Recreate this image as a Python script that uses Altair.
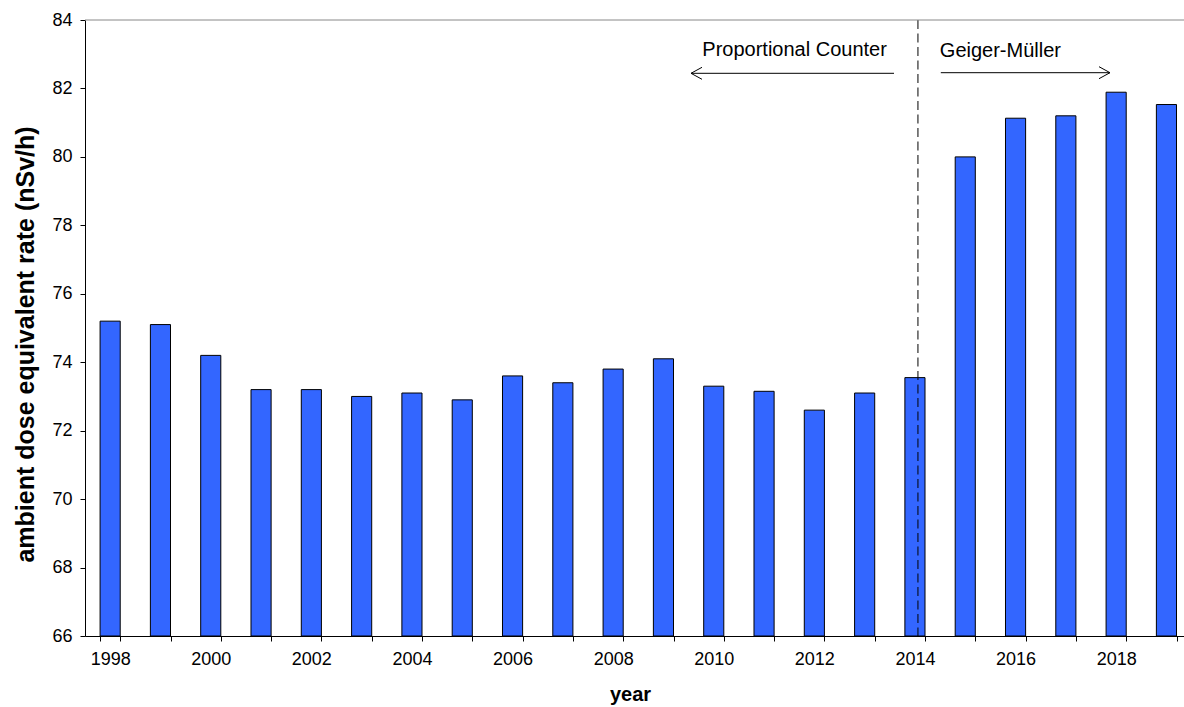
import altair as alt
import pandas as pd

years = ["1998", "1999", "2000", "2001", "2002", "2003", "2004", "2005", "2006", "2007", "2008",
         "2009", "2010", "2011", "2012", "2013", "2014", "2015", "2016", "2017", "2018", "2019"]
dose = [75.2, 75.1, 74.2, 73.2, 73.2, 73.0, 73.1, 72.9, 73.6, 73.4, 73.8,
        74.1, 73.3, 73.15, 72.6, 73.1, 73.55, 80.0, 81.13, 81.2, 81.89, 81.53]
y_ticks = [66, 68, 70, 72, 74, 76, 78, 80, 82, 84]
switch_year = ["2014"]

FONT = "Liberation Sans"
W, H = 1099, 616

df = pd.DataFrame({"year": years, "dose": dose})
one = pd.DataFrame({"a": [0]})

x_scale = alt.Scale(domain=years, range=[0, 1106.6], paddingInner=0.6, paddingOuter=0.3)
y_scale = alt.Scale(domain=[66, 84], nice=False, zero=False)

bars = alt.Chart(df).mark_bar(fill="#3366FF", stroke="black", strokeWidth=1).encode(
    x=alt.X("year:O", scale=x_scale,
            axis=alt.Axis(title="year", tickBand="extent", labelAngle=0,
                          labelExpr="toNumber(datum.value) % 2 == 0 ? datum.value : ''",
                          labelFontSize=18, labelPadding=9, tickSize=5,
                          titleFontSize=20, titleFontWeight="bold",
                          titleX=545, titleY=64, titleBaseline="alphabetic")),
    y=alt.Y("dose:Q", scale=y_scale,
            axis=alt.Axis(title="ambient dose equivalent rate (nSv/h)", values=y_ticks, format="d",
                          labelFontSize=18, labelPadding=8, tickSize=5,
                          titleFontSize=25, titleFontWeight="bold",
                          titleX=-52, titleY=324, titleAngle=270, titleAlign="center",
                          titleBaseline="alphabetic")),
    y2=alt.datum(66),
)

divider = alt.Chart(pd.DataFrame({"year": switch_year})).mark_rule(
    color="black", strokeWidth=1, strokeDash=[9, 4.5], xOffset=3
).encode(x=alt.X("year:O", scale=x_scale), y=alt.value(0), y2=alt.value(H))


def seg(x1, y1, x2, y2, color="black"):
    return alt.Chart(one).mark_rule(color=color, strokeWidth=1).encode(
        x=alt.value(x1), y=alt.value(y1), x2=alt.value(x2), y2=alt.value(y2))


def label(txt, x, y):
    return alt.Chart(one).mark_text(text=txt, font=FONT, fontSize=20, color="black",
                                    align="center", baseline="alphabetic").encode(
        x=alt.value(x), y=alt.value(y))


top_border = seg(0, 0, 1106, 0, color="#888888")

pc_arrow = [seg(809, 53.3, 606, 53.3), seg(606, 53.3, 617, 47.3), seg(606, 53.3, 617, 59.3)]
gm_arrow = [seg(855.8, 52.7, 1025, 52.7), seg(1025, 52.7, 1014, 46.7), seg(1025, 52.7, 1014, 58.7)]

chart = alt.layer(
    bars, divider, top_border, *pc_arrow, *gm_arrow,
    label("Proportional Counter", 709.6, 36),
    label("Geiger-Müller", 915.4, 37),
).properties(
    width=W, height=H,
    autosize=alt.AutoSizeParams(type="none"),
    padding={"left": 85, "top": 20, "right": 0, "bottom": 71},
    background="white",
).configure_view(stroke=None).configure_axis(
    grid=False, labelFont=FONT, titleFont=FONT, labelColor="black", titleColor="black",
    domainColor="black", tickColor="black", domainWidth=1, tickWidth=1,
)

chart.save("out.html", embed_options={"renderer": "svg", "actions": False})
